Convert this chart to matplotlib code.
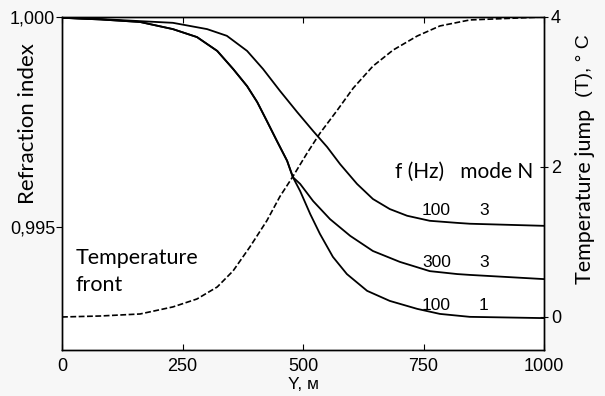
import matplotlib
matplotlib.use("Agg")
import matplotlib.pyplot as plt
from matplotlib.ticker import FuncFormatter

# Refraction index curves (left axis)
y_m_a = [0, 80, 162, 230, 301, 342, 384, 417, 452, 488, 521, 550, 577, 612, 645, 680, 716, 763, 820, 846, 1000]
n_100_3 = [0.99998, 0.99995, 0.99990, 0.99986, 0.99971, 0.99955, 0.99919, 0.99876, 0.99824, 0.99773,
           0.99728, 0.99690, 0.99649, 0.99602, 0.99566, 0.99542, 0.99526, 0.99514, 0.99509, 0.99507,
           0.99502]

y_m_b = [0, 80, 162, 230, 280, 322, 355, 384, 405, 425, 446, 467, 479, 494, 521, 556, 598, 645,
         701, 763, 820, 846, 1000]
n_300_3 = [0.99998, 0.99994, 0.99988, 0.99971, 0.99952, 0.99919, 0.99876, 0.99835, 0.99797, 0.99752,
           0.99704, 0.99657, 0.99618, 0.99602, 0.99561, 0.99518, 0.99478, 0.99442, 0.99416, 0.99394,
           0.99387, 0.99385, 0.99375]

y_m_c = [0, 80, 162, 230, 280, 322, 355, 384, 405, 425, 446, 467, 479, 494, 515, 535, 562, 591,
         633, 680, 737, 784, 846, 1000]
n_100_1 = [0.99998, 0.99994, 0.99988, 0.99971, 0.99952, 0.99919, 0.99876, 0.99835, 0.99797, 0.99752,
           0.99704, 0.99657, 0.99618, 0.99585, 0.99530, 0.99483, 0.99428, 0.99387, 0.99347, 0.99323,
           0.99304, 0.99292, 0.99285, 0.99282]

# Temperature front (right axis)
y_m_t = [0, 79, 162, 230, 280, 322, 355, 390, 425, 452, 479, 508, 535, 571, 604, 645, 687, 737,
         784, 846, 1000]
temp = [0, 0.013, 0.04, 0.134, 0.24, 0.40, 0.615, 0.936, 1.284, 1.605, 1.873, 2.18, 2.448, 2.756,
        3.05, 3.344, 3.559, 3.746, 3.88, 3.96, 4.0]

x_ticks = [0, 250, 500, 750, 1000]
left_ticks = [0.995, 1.000]
right_ticks = [0, 2, 4]

curve_labels = [("100", "3", 0.99520), ("300", "3", 0.99397), ("100", "1", 0.99294)]

fig = plt.figure(figsize=(6.05, 3.96), dpi=100, facecolor="#f7f7f7")
ax = fig.add_axes([0.1025, 0.1162, 0.7967, 0.841])
ax.set_facecolor("white")

lw = 1.3
ax.plot(y_m_a, n_100_3, color="black", lw=lw)
ax.plot(y_m_b, n_300_3, color="black", lw=lw)
ax.plot(y_m_c, n_100_1, color="black", lw=lw)

ax.set_xlim(0, 1000)
ax.set_ylim(0.99206, 1.0)
ax.set_xticks(x_ticks)
ax.set_yticks(left_ticks)
ax.yaxis.set_major_formatter(FuncFormatter(lambda v, p: f"{v:.3f}".replace(".", ",")))
ax.tick_params(axis="x", direction="in", top=True, length=4, labelsize=13, pad=6)
ax.tick_params(axis="y", direction="out", length=4, labelsize=13, pad=1)
for lab in ax.get_xticklabels() + ax.get_yticklabels():
    lab.set_fontfamily("Liberation Sans")

ax2 = ax.twinx()
ax2.plot(y_m_t, temp, color="black", lw=1.2, ls=(0, (3.5, 1.5)))
ax2.set_ylim(-0.44, 4.0)
ax2.set_yticks(right_ticks)
ax2.tick_params(axis="y", direction="inout", length=6, labelsize=13, pad=2)
for lab in ax2.get_yticklabels():
    lab.set_fontfamily("Liberation Sans")

for a in (ax, ax2):
    for s in a.spines.values():
        s.set_linewidth(1.0)

ax.set_xlabel("Y, м", family="Liberation Sans", fontsize=12.5, labelpad=1)
fig.text(0.046, 0.689, "Refraction index", rotation=90, ha="center", va="center",
         family="Lato", fontsize=16)
fig.text(0.967, 0.503, "Temperature jump", rotation=90, ha="center", va="center",
         family="Lato", fontsize=15.5)
fig.text(0.966, 0.835, "(T), ° C", rotation=90, ha="center", va="center",
         family="Liberation Sans", fontsize=14)

ax.text(28, 0.99394, "Temperature\nfront", ha="left", va="center", family="Lato",
        fontsize=15.5, linespacing=1.45)
ax.text(690, 0.99630, "f (Hz)   mode N", ha="left", va="center", family="Lato", fontsize=15)
for f, m, yv in curve_labels:
    ax.text(777, yv, f, ha="center", va="bottom", family="Liberation Sans", fontsize=12.5)
    ax.text(875, yv, m, ha="center", va="bottom", family="Liberation Sans", fontsize=12.5)

fig.savefig("out.png", dpi=100, facecolor=fig.get_facecolor())
